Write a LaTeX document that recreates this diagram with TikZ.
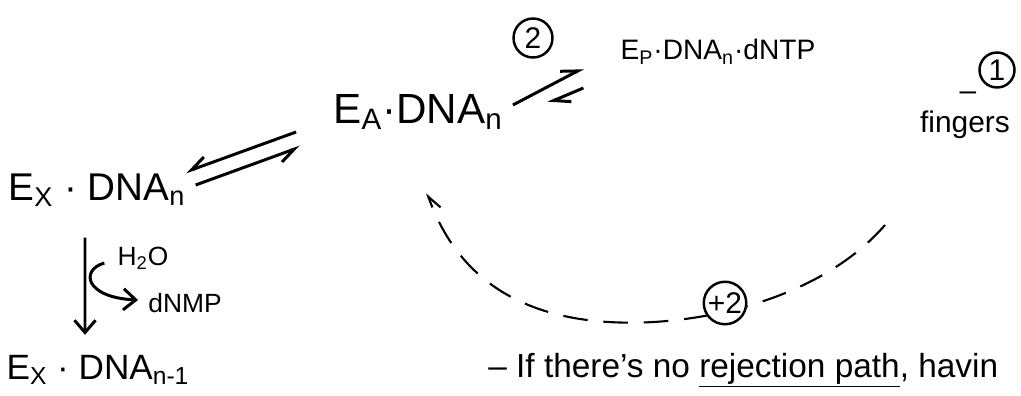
\documentclass[tikz,border=0pt]{standalone}
\usepackage{fontspec}
\setmainfont{Liberation Sans}
\usetikzlibrary{arrows.meta, calc}

\begin{document}
\begin{tikzpicture}[
          lbl/.style={inner sep=0pt, font=\fontsize{22}{26}\selectfont},
          note/.style={inner sep=0pt, font=\fontsize{15}{18}\selectfont},
          num/.style={circle, draw, line width=1.4pt, inner sep=0pt,
                      minimum size=0.78cm, font=\fontsize{17}{19}\selectfont},
          harpR/.style={-{Straight Barb[right, length=9pt, width=9pt]}, line width=1.7pt},
          harpL/.style={-{Straight Barb[left, length=9pt, width=9pt]}, line width=1.7pt},
          arr/.style={-{Straight Barb[length=7pt, width=12pt]}, line width=1.7pt},
          back/.style={line width=1.2pt, dash pattern=on 14pt off 9pt}
        ]
        \useasboundingbox (0,0) rectangle (20.42,7.9);

        \node[lbl, font=\fontsize{24}{28}\selectfont] (ea) at (8.36,5.66)
              {E\textsubscript{A}·DNA\textsubscript{n}};
        \node[lbl, font=\fontsize{16}{19}\selectfont] (ep) at (14.36,6.86)
              {E\textsubscript{P}·DNA\textsubscript{n}·dNTP};
        \node[lbl] (ex) at (1.94,4.1)
              {E\textsubscript{X} · DNA\textsubscript{n}};
        \node[lbl, font=\fontsize{20}{24}\selectfont] (exm) at (1.96,0.5)
              {E\textsubscript{X} · DNA\textsubscript{n-1}};
        \node[note] (h2o) at (2.86,2.74) {H\textsubscript{2}O};
        \node[note] (dnmp) at (3.7,1.84) {dNMP};

        \node[num] (two) at (10.66,7.14) {2};
        \node[num, minimum size=0.7cm] (one) at (19.94,6.5) {1};
        \node[note, font=\fontsize{17}{20}\selectfont] (dash) at (19.36,5.98) {–};
        \node[note, font=\fontsize{17}{20}\selectfont] (fing) at (19.3,5.4) {fingers};

        \node[lbl, font=\fontsize{19}{23}\selectfont, anchor=base west] (rule) at (9.76,0.36)
              {– If there's no \underline{rejection path}, havin};

        % E_X <=> E_A
        \draw[harpR] ([shift={(-0.74,-0.4)}]ea.west) -- ([shift={(0,0.36)}]ex.east);
        \draw[harpR] ([shift={(0.2,0.1)}]ex.east) -- ([shift={(-0.66,-0.7)}]ea.west);

        % E_A <=> E_P
        \draw[harpL] ([shift={(0.2,0.14)}]ea.east) -- ([shift={(-0.74,-0.32)}]ep.west);
        \draw[harpL] ([shift={(-0.74,-0.72)}]ep.west) -- ([shift={(0.9,0.18)}]ea.east);

        % hydrolysis
        \draw[arr] ([shift={(-0.24,-0.62)}]ex.south) -- ([shift={(-0.26,0.4)}]exm.north);
        \draw[arr] ([shift={(-0.26,-0.1)}]h2o.west)
              .. controls (1.6,2.5) and (1.7,1.95) .. ([shift={(-0.2,0.06)}]dnmp.west);

        % return path
        \coordinate (fs) at (17.7,3.4);
        \draw[back, -{Straight Barb[right, length=8pt, width=9pt]}] (fs)
              .. controls (16.4,1.9) and (14.0,1.4) .. (12.4,1.45)
              .. controls (10.6,1.5) and (9.2,2.2) .. ([shift={(0.18,-1.62)}]ea.center);
        \node[num, fill=white, minimum size=0.85cm] (pl2) at (14.5,1.84) {+2};
      \end{tikzpicture}
\end{document}
